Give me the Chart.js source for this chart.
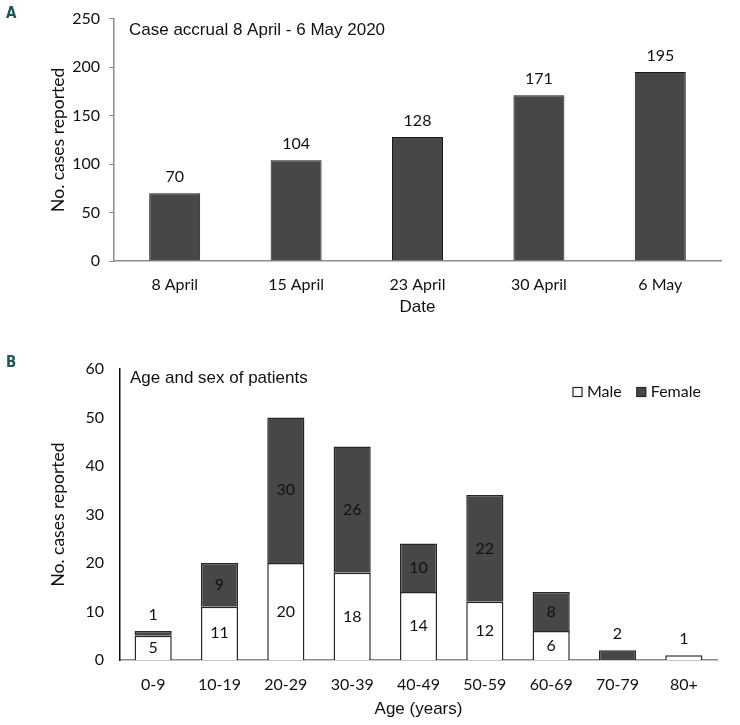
<!DOCTYPE html>
<html>
<head>
<meta charset="utf-8">
<script src="https://cdn.jsdelivr.net/npm/chart.js@4.4.1/dist/chart.umd.min.js"></script>
<style>
  body { margin: 0; background: #fff; }
  #page { position: relative; width: 740px; height: 725px; }
  canvas { position: absolute; left: 0; }
  #chartA { top: 0; }
  #chartB { top: 320px; }
  .panel { position: absolute; left: 6px; font: bold 15px "DejaVu Sans Condensed", "DejaVu Sans", sans-serif; color: #1f5656; }
</style>
</head>
<body>
<div id="page">
  <canvas id="chartA" width="740" height="320"></canvas>
  <canvas id="chartB" width="740" height="405"></canvas>
  <div class="panel" style="top:4px">A</div>
  <div class="panel" style="top:353px">B</div>
</div>
<script>
// Panel A data
const dates = ["8 April", "15 April", "23 April", "30 April", "6 May"];
const casesReported = [70, 104, 128, 171, 195];

// Panel B data
const ageGroups = ["0-9", "10-19", "20-29", "30-39", "40-49", "50-59", "60-69", "70-79", "80+"];
const maleCases = [5, 11, 20, 18, 14, 12, 6, 0, 1];
const femaleCases = [1, 9, 30, 26, 10, 22, 8, 2, 0];

const tickFont = { family: "Lato", size: 16 };
const titleFont = { family: "Liberation Sans", size: 17 };
const dark = "#474747";

// Title text inside the plot area
const cornerTitle = {
  id: "cornerTitle",
  afterDraw(chart, args, opts) {
    const { ctx, chartArea } = chart;
    ctx.save();
    ctx.font = "17px 'Liberation Sans'";
    ctx.fillStyle = "#111";
    ctx.textBaseline = "middle";
    ctx.fillText(opts.text, chartArea.left + opts.dx, chartArea.top + opts.dy);
    ctx.restore();
  },
};

// Small legend in the top right corner of the plot (panel B)
const cornerLegend = {
  id: "cornerLegend",
  afterDraw(chart, args, opts) {
    if (!opts.show) return;
    const { ctx, chartArea } = chart;
    ctx.save();
    ctx.font = "16px Lato";
    ctx.textBaseline = "middle";
    let x = chartArea.right - opts.fromRight;
    const y = chartArea.top + opts.dy;
    chart.data.datasets.forEach(ds => {
      ctx.fillStyle = ds.backgroundColor;
      ctx.strokeStyle = ds.borderColor;
      ctx.lineWidth = 1.2;
      ctx.fillRect(x, y - 4.5, 9, 9);
      ctx.strokeRect(x, y - 4.5, 9, 9);
      ctx.fillStyle = "#111";
      ctx.fillText(ds.label, x + 14, y);
      x += 14 + ctx.measureText(ds.label).width + 15;
    });
    ctx.restore();
  },
};

// Value labels drawn from bar elements
const valueLabels = {
  id: "valueLabels",
  afterDatasetsDraw(chart) {
    const { ctx } = chart;
    ctx.save();
    ctx.font = "16px Lato";
    ctx.fillStyle = "#111";
    ctx.textAlign = "center";
    ctx.textBaseline = "middle";
    const stacked = chart.data.datasets.length > 1;
    chart.data.datasets.forEach((ds, i) => {
      const meta = chart.getDatasetMeta(i);
      meta.data.forEach((bar, j) => {
        const v = ds.data[j];
        if (!v) return;
        const h = bar.base - bar.y;
        if (!stacked) {
          ctx.fillText(v, bar.x, bar.y - 16);
          return;
        }
        if (h >= 18) {
          ctx.fillText(v, bar.x, (bar.y + bar.base) / 2);
        } else {
          // small segment: label above the whole stack
          let top = bar.y;
          chart.data.datasets.forEach((d2, k) => {
            const b2 = chart.getDatasetMeta(k).data[j];
            if (d2.data[j]) top = Math.min(top, b2.y);
          });
          ctx.fillText(v, bar.x, top - 16);
        }
      });
    });
    ctx.restore();
  },
};

new Chart(document.getElementById("chartA"), {
  type: "bar",
  data: {
    labels: dates,
    datasets: [{
      label: "Cases",
      data: casesReported,
      backgroundColor: dark,
      borderColor: "#1a1a1a",
      borderWidth: 1,
      categoryPercentage: 1,
      barPercentage: 0.42,
    }],
  },
  options: {
    responsive: false,
    animation: false,
    devicePixelRatio: 1,
    layout: { padding: { top: 13, right: 19, bottom: 0, left: 0 } },
    plugins: {
      legend: { display: false },
      tooltip: { enabled: false },
      cornerTitle: { text: "Case accrual 8 April - 6 May 2020", dx: 15, dy: 12 },
    },
    scales: {
      x: {
        grid: { display: false, drawTicks: false },
        border: { display: true, color: "#8c8c8c", width: 1.5 },
        ticks: { font: tickFont, color: "#111", padding: 14 },
        title: { display: true, text: "Date", font: titleFont, color: "#111", padding: { top: 0, bottom: 2 } },
        afterFit(s) { s.height = 59; },
      },
      y: {
        min: 0,
        max: 250,
        ticks: { stepSize: 50, font: tickFont, color: "#111", padding: 9 },
        grid: { drawOnChartArea: false, drawTicks: true, tickLength: 5, color: "#8c8c8c" },
        border: { display: true, color: "#8c8c8c", width: 1.5 },
        title: { display: true, text: "No. cases reported", font: { family: "Lato", size: 17.5 }, color: "#111", padding: { top: 48, bottom: 0 } },
        afterFit(s) { s.width = 114; },
      },
    },
  },
  plugins: [cornerTitle, valueLabels],
});

new Chart(document.getElementById("chartB"), {
  type: "bar",
  data: {
    labels: ageGroups,
    datasets: [
      {
        label: "Male",
        data: maleCases,
        backgroundColor: "#ffffff",
        borderColor: "#262626",
        borderWidth: 1.5,
        categoryPercentage: 1,
        barPercentage: 0.56,
      },
      {
        label: "Female",
        data: femaleCases,
        backgroundColor: dark,
        borderColor: "#262626",
        borderWidth: 1.5,
        categoryPercentage: 1,
        barPercentage: 0.56,
      },
    ],
  },
  options: {
    responsive: false,
    animation: false,
    devicePixelRatio: 1,
    layout: { padding: { top: 49, right: 23, bottom: 0, left: 0 } },
    plugins: {
      legend: { display: false },
      tooltip: { enabled: false },
      cornerTitle: { text: "Age and sex of patients", dx: 10, dy: 9 },
      cornerLegend: { show: true, fromRight: 144, dy: 23 },
    },
    scales: {
      x: {
        stacked: true,
        grid: { display: false, drawTicks: false },
        border: { display: true, color: "#8c8c8c", width: 1.5 },
        ticks: { font: tickFont, color: "#111", padding: 15 },
        title: { display: true, text: "Age (years)", font: titleFont, color: "#111", padding: { top: 0, bottom: 5 } },
        afterFit(s) { s.height = 65; },
      },
      y: {
        stacked: true,
        min: 0,
        max: 60,
        ticks: { stepSize: 10, font: tickFont, color: "#111", padding: 16 },
        grid: { display: false, drawTicks: false },
        border: { display: true, color: "#111", width: 1.5 },
        title: { display: true, text: "No. cases reported", font: { family: "Lato", size: 17.5 }, color: "#111", padding: { top: 48, bottom: 0 } },
        afterFit(s) { s.width = 120; },
      },
    },
  },
  plugins: [cornerTitle, cornerLegend, valueLabels],
});
</script>
</body>
</html>
